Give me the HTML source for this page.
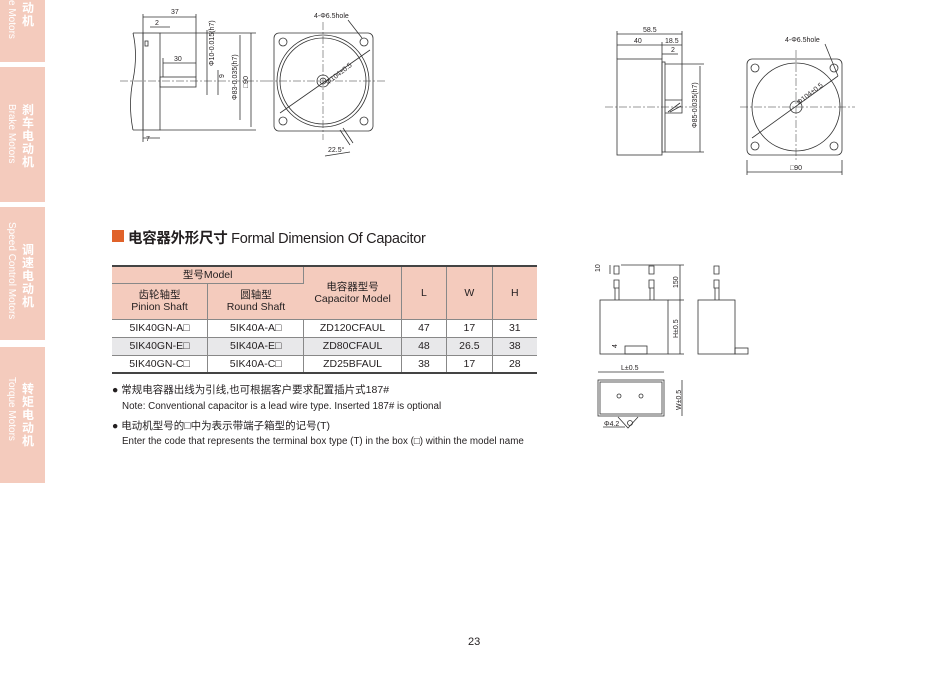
<!DOCTYPE html>
<html><head><meta charset="utf-8"><style>
body{margin:0;width:950px;height:697px;background:#fff;position:relative;overflow:hidden;font-family:"Liberation Sans","Noto Sans CJK SC",sans-serif;color:#231f20}
.tab{position:absolute;left:0;width:45px;background:#f4cbbd}
.tab .cn{position:absolute;left:22px;color:#fff;font-weight:bold;font-size:12px;line-height:13px;width:13px}
.tab .en{position:absolute;left:6px;color:#fff;font-size:10px;writing-mode:vertical-rl;white-space:nowrap}
table{position:absolute;left:112px;top:265px;width:425px;border-collapse:collapse;font-size:10.5px;text-align:center}
td{border-right:1px solid #888;border-bottom:1px solid #888;padding:0;line-height:12px}
td:last-child{border-right:none}
.h td{background:#f4cbbd}
.abs{position:absolute;white-space:nowrap}
</style></head><body>
<div class="tab" style="top:0;height:62px"><div class="cn" style="top:2px">动<br>机</div><div class="en" style="top:0">e Motors</div></div>
<div class="tab" style="top:67px;height:135px"><div class="cn" style="top:37px">刹<br>车<br>电<br>动<br>机</div><div class="en" style="top:37px">Brake Motors</div></div>
<div class="tab" style="top:207px;height:133px"><div class="cn" style="top:37px">调<br>速<br>电<br>动<br>机</div><div class="en" style="top:15px">Speed Control Motors</div></div>
<div class="tab" style="top:347px;height:136px"><div class="cn" style="top:36px">转<br>矩<br>电<br>动<br>机</div><div class="en" style="top:30px">Torque Motors</div></div>

<svg class="abs" style="left:0;top:0" width="950" height="697" font-family="Liberation Sans" font-size="7" fill="none" stroke="#333" stroke-width="0.8">
<g>
<line x1="120" y1="81" x2="265" y2="81" stroke-dasharray="8,2,2,2" stroke-width="0.5"/>
<path d="M133 33 H143 V130 H133 M133 33 Q138 55 133 80 Q128 105 133 130"/>
<rect x="143" y="33" width="17" height="97"/>
<rect x="145" y="41" width="3" height="5"/>
<rect x="160" y="77" width="36" height="10"/>
<line x1="143" y1="17" x2="196" y2="17"/><line x1="143" y1="14" x2="143" y2="33"/><line x1="196" y1="14" x2="196" y2="77"/>
<line x1="150" y1="27" x2="170" y2="27"/><line x1="163" y1="63" x2="196" y2="63"/><line x1="163" y1="58" x2="163" y2="77"/>
<line x1="207" y1="30" x2="207" y2="95"/><line x1="218" y1="70" x2="218" y2="95"/><line x1="240" y1="35" x2="240" y2="120"/><line x1="251" y1="33" x2="251" y2="127"/>
<line x1="160" y1="33" x2="256" y2="33"/><line x1="160" y1="130" x2="256" y2="130"/>
<line x1="143" y1="138" x2="160" y2="138"/><line x1="143" y1="130" x2="143" y2="142"/>
</g>
<g fill="#231f20" stroke="none">
<text x="171" y="14">37</text><text x="155" y="25">2</text><text x="174" y="61">30</text><text x="146" y="141">7</text>
<text transform="translate(214,66) rotate(-90)">Φ10-0.015(h7)</text><text transform="translate(224,78) rotate(-90)">9</text>
<text transform="translate(237,100) rotate(-90)">Φ83-0.035(h7)</text><text transform="translate(248,88) rotate(-90)">□90</text>
<text x="314" y="18">4-Φ6.5hole</text><text x="328" y="152">22.5°</text>
<text transform="translate(328,85) rotate(-38)">Φ104±0.5</text>
</g>
<g>
<line x1="265" y1="81" x2="385" y2="81" stroke-dasharray="8,2,2,2" stroke-width="0.5"/>
<line x1="323" y1="22" x2="323" y2="140" stroke-dasharray="8,2,2,2" stroke-width="0.5"/>
<rect x="274" y="33" width="99" height="98" rx="5"/>
<circle cx="323" cy="81" r="46"/><circle cx="323" cy="81" r="43"/><circle cx="323" cy="81" r="6"/><circle cx="323" cy="81" r="3"/>
<circle cx="283" cy="42" r="4"/><circle cx="364" cy="42" r="4"/><circle cx="283" cy="121" r="4"/><circle cx="364" cy="121" r="4"/>
<line x1="280" y1="113" x2="370" y2="50"/><line x1="348" y1="20" x2="362" y2="38"/>
<path d="M340 130 L350 145 M343 128 L353 143" /><line x1="325" y1="156" x2="350" y2="152"/>
</g>
<g>
<line x1="605" y1="107" x2="700" y2="107" stroke-dasharray="8,2,2,2" stroke-width="0.5"/>
<rect x="617" y="59" width="45" height="96"/><rect x="662" y="62" width="3" height="90"/>
<path d="M665 100 H682 V113 H665 M668 112 L680 103 M670 112 L681 106"/>
<line x1="617" y1="34" x2="682" y2="34"/><line x1="617" y1="45" x2="682" y2="45"/><line x1="662" y1="54" x2="678" y2="54"/>
<line x1="617" y1="31" x2="617" y2="59"/><line x1="682" y1="31" x2="682" y2="100"/><line x1="662" y1="42" x2="662" y2="59"/>
<line x1="700" y1="66" x2="700" y2="152"/><line x1="665" y1="64" x2="704" y2="64"/><line x1="665" y1="152" x2="704" y2="152"/>
</g>
<g fill="#231f20" stroke="none">
<text x="643" y="32">58.5</text><text x="634" y="43">40</text><text x="665" y="43">18.5</text><text x="671" y="52">2</text>
<text transform="translate(697,128) rotate(-90)">Φ85-0.035(h7)</text>
<text x="785" y="42">4-Φ6.5hole</text><text x="790" y="170">□90</text>
<text transform="translate(799,105) rotate(-38)">Φ104±0.5</text>
</g>
<g>
<line x1="740" y1="107" x2="855" y2="107" stroke-dasharray="8,2,2,2" stroke-width="0.5"/>
<line x1="796" y1="50" x2="796" y2="160" stroke-dasharray="8,2,2,2" stroke-width="0.5"/>
<rect x="747" y="59" width="95" height="96" rx="5"/>
<circle cx="796" cy="107" r="44"/><circle cx="796" cy="107" r="6"/>
<circle cx="755" cy="68" r="4"/><circle cx="834" cy="68" r="4"/><circle cx="755" cy="146" r="4"/><circle cx="834" cy="146" r="4"/>
<line x1="752" y1="138" x2="838" y2="76"/><line x1="825" y1="44" x2="838" y2="76"/>
<line x1="747" y1="160" x2="747" y2="175"/><line x1="842" y1="160" x2="842" y2="175"/><line x1="747" y1="172" x2="842" y2="172"/>
</g>
<g>
<rect x="600" y="300" width="68" height="54"/>
<rect x="625" y="346" width="22" height="8"/>
<path d="M614 266 h5 v8 h-5 z M614 280 h5 v8 h-5 z M615 288 v12 M619 288 v12"/>
<path d="M649 266 h5 v8 h-5 z M649 280 h5 v8 h-5 z M650 288 v12 M654 288 v12"/>
<line x1="621" y1="265" x2="684" y2="265"/><line x1="680" y1="265" x2="680" y2="354"/><line x1="668" y1="300" x2="684" y2="300"/><line x1="668" y1="354" x2="684" y2="354"/>
<line x1="610" y1="265" x2="610" y2="274"/>
<rect x="698" y="300" width="37" height="54"/><rect x="735" y="348" width="13" height="6"/>
<path d="M714 266 h5 v8 h-5 z M714 280 h5 v8 h-5 z M715 288 v12 M719 288 v12"/>
<rect x="598" y="380" width="66" height="36"/><rect x="600" y="382" width="62" height="32"/>
<circle cx="619" cy="396" r="2"/><circle cx="641" cy="396" r="2"/>
<line x1="598" y1="372" x2="664" y2="372"/><line x1="682" y1="380" x2="682" y2="416"/>
<path d="M618 417 L628 428 L638 417 M603 427 H625"/><circle cx="630" cy="423" r="2.5"/>
</g>
<g fill="#231f20" stroke="none">
<text transform="translate(600,272) rotate(-90)">10</text><text transform="translate(678,288) rotate(-90)">150</text>
<text transform="translate(678,338) rotate(-90)">H±0.5</text><text transform="translate(617,348) rotate(-90)">4</text>
<text x="621" y="370">L±0.5</text><text transform="translate(681,410) rotate(-90)">W±0.5</text><text x="604" y="426">Φ4.2</text>
</g>
</svg>

<div class="abs" style="left:112px;top:230px;width:12px;height:12px;background:#e0622a"></div>
<div class="abs" style="left:128px;top:227px;font-size:14.5px;letter-spacing:-0.3px"><b>电容器外形尺寸</b> Formal Dimension Of Capacitor</div>

<table style="border-top:2px solid #444;border-bottom:2px solid #444">
<tr class="h" style="height:17px"><td colspan="2">型号Model</td><td rowspan="2" style="width:97px">电容器型号<br>Capacitor Model</td><td rowspan="2" style="width:45px">L</td><td rowspan="2" style="width:45px">W</td><td rowspan="2" style="width:45px">H</td></tr>
<tr class="h" style="height:36px"><td style="width:96px">齿轮轴型<br>Pinion Shaft</td><td style="width:97px">圆轴型<br>Round Shaft</td></tr>
<tr style="height:18px"><td>5IK40GN-A□</td><td>5IK40A-A□</td><td>ZD120CFAUL</td><td>47</td><td>17</td><td>31</td></tr>
<tr style="height:18px;background:#e8e8ea"><td>5IK40GN-E□</td><td>5IK40A-E□</td><td>ZD80CFAUL</td><td>48</td><td>26.5</td><td>38</td></tr>
<tr style="height:18px"><td style="border-bottom:none">5IK40GN-C□</td><td style="border-bottom:none">5IK40A-C□</td><td style="border-bottom:none">ZD25BFAUL</td><td style="border-bottom:none">38</td><td style="border-bottom:none">17</td><td style="border-bottom:none">28</td></tr>
</table>

<div class="abs" style="left:112px;top:382px;font-size:10.5px">● 常规电容器出线为引线,也可根据客户要求配置插片式187#</div>
<div class="abs" style="left:122px;top:401px;font-size:9.8px">Note: Conventional capacitor is a lead wire type. Inserted 187# is optional</div>
<div class="abs" style="left:112px;top:418px;font-size:10.5px">● 电动机型号的□中为表示带端子箱型的记号(T)</div>
<div class="abs" style="left:122px;top:436px;font-size:9.8px">Enter the code that represents the terminal box type (T) in the box (□) within the model name</div>
<div class="abs" style="left:468px;top:636px;font-size:11px">23</div>
</body></html>
